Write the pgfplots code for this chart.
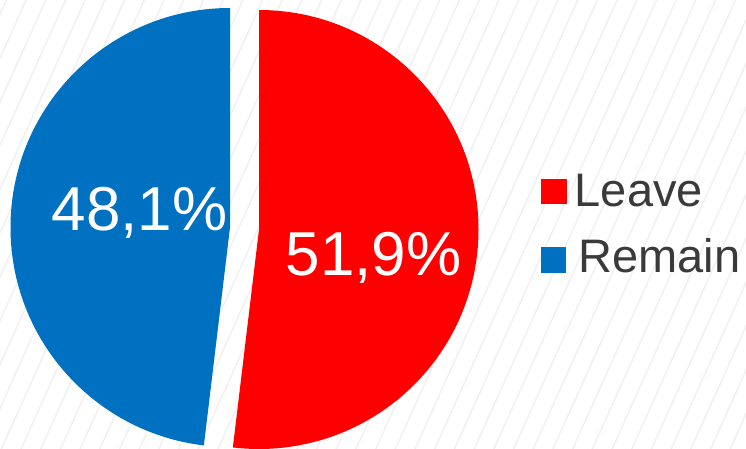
\documentclass[border=0pt]{standalone}
\usepackage{pgfplots}
\pgfplotsset{compat=1.18}
\usepackage{fontspec}
\setmainfont{Liberation Sans}
\definecolor{leavec}{HTML}{FF0000}
\definecolor{remainc}{HTML}{0070C0}
\definecolor{hatchgray}{HTML}{F1F1F1}
\definecolor{legtext}{HTML}{3A3A3A}
% shares (percent)
\def\leave{51.9}
\def\remain{48.1}
\begin{document}
\begin{tikzpicture}
\begin{axis}[x=1pt,y=1pt,xmin=0,xmax=746,ymin=0,ymax=448,
  hide axis, scale only axis, clip=true]
\pgfplotsinvokeforeach{-45,...,10}{
  \draw[hatchgray, line width=1.6pt] (axis cs:{620+19.7*#1-0.45*168},-20) -- (axis cs:{620+19.7*#1+0.45*322},470);
}
\fill[leavec] (axis cs:259,218.5) -- (axis cs:259,438) arc[start angle=90, end angle={90-3.6*\leave}, radius=219.5] -- cycle;
\fill[remainc] (axis cs:230,220.5) -- (axis cs:230,440) arc[start angle=90, end angle={90+3.6*\remain}, radius=219.5] -- cycle;
\node[anchor=base, inner sep=0, text=white, font=\fontsize{62}{70}\selectfont] at (axis cs:139.5,218) {48,1\%};
\node[anchor=base, inner sep=0, text=white, font=\fontsize{62}{70}\selectfont] at (axis cs:373.5,173) {51,9\%};
\fill[leavec] (axis cs:541,244) rectangle (axis cs:567,269);
\fill[remainc] (axis cs:541,175) rectangle (axis cs:566,201);
\node[anchor=base west, inner sep=0, text=legtext, font=\fontsize{47}{52}\selectfont] at (axis cs:574.6,242) {Leave};
\node[anchor=base west, inner sep=0, text=legtext, font=\fontsize{47}{52}\selectfont] at (axis cs:578.3,176) {Remain};
\end{axis}
\pgfresetboundingbox
\useasboundingbox (current axis.south west) rectangle (current axis.north east);
\end{tikzpicture}
\end{document}
